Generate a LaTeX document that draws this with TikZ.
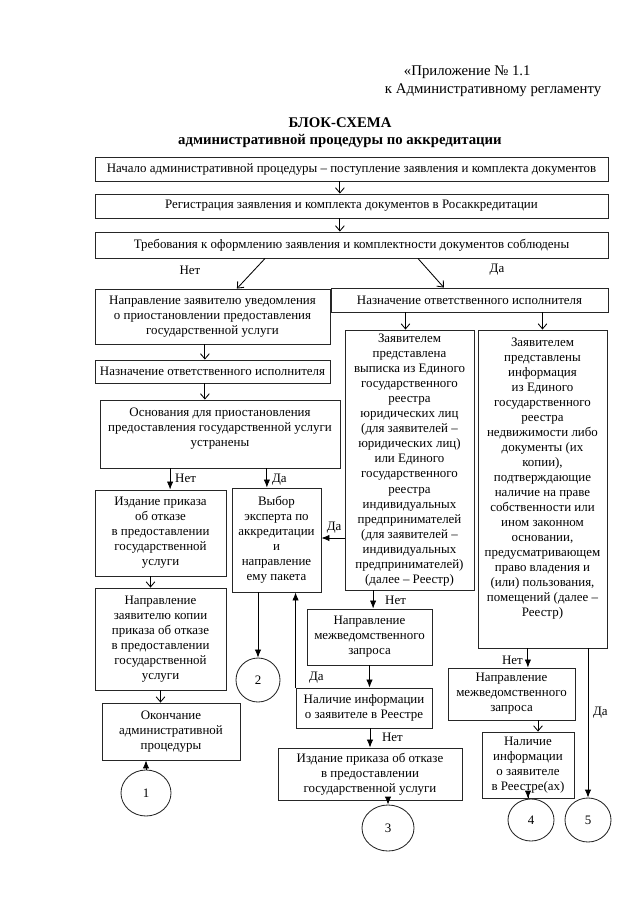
\documentclass[tikz,border=0pt]{standalone}
\usepackage{fontspec}
\setmainfont{Liberation Serif}
\usetikzlibrary{positioning,arrows.meta,calc,shapes.geometric}

\begin{document}
\begin{tikzpicture}[x=0.025cm,y=-0.025cm,
  every node/.style={font=\fontsize{9.2}{10.7}\selectfont},
  box/.style={draw=black!85,line width=0.6pt,align=center,inner sep=1pt},
  circ/.style={draw=black!85,line width=0.6pt,ellipse,inner sep=0pt},
  arr/.style={line width=0.6pt,-{Straight Barb[length=1.3mm,width=2.2mm]}},
  farr/.style={line width=0.6pt,-{Latex[length=2mm,width=1.6mm]}},
  head/.style={font=\fontsize{10.5}{12}\selectfont}]
  \useasboundingbox (0,0) rectangle (640,905);

  % heading
  \node[head,anchor=west] (app) at (399,72) {«Приложение № 1.1};
  \node[head,anchor=west] (reg) at (380,90) {к Административному регламенту};
  \node[head,font=\fontsize{10.5}{12}\bfseries] (ttl) at (340,123) {БЛОК-СХЕМА};
  \node[head,font=\fontsize{10.5}{12}\bfseries] (sub) at (340,141) {административной процедуры по аккредитации};

  % upper part
  \node[box,minimum width=12.825cm,minimum height=0.6cm] (start) at (351.5,169)
    {Начало административной процедуры – поступление заявления и комплекта документов};
  \node[box,minimum width=12.825cm,minimum height=0.6cm] (regist) at (351.5,206)
    {Регистрация заявления и комплекта документов в Росаккредитации};
  \node[box,minimum width=12.825cm,minimum height=0.65cm] (demand) at (351.5,245)
    {Требования к оформлению заявления и комплектности документов соблюдены};

  \node[box,minimum width=5.875cm,minimum height=1.375cm] (notify) at (212.5,316.5)
    {Направление заявителю уведомления\\ о приостановлении предоставления\\ государственной услуги};
  \node[box,minimum width=6.925cm,minimum height=0.6cm] (assignR) at (469.5,300)
    {Назначение ответственного исполнителя};
  \node[box,minimum width=5.875cm,minimum height=0.575cm] (assignL) at (212.5,371.5)
    {Назначение ответственного исполнителя};
  \node[box,minimum width=6cm,minimum height=1.7cm] (grounds) at (220,434)
    {Основания для приостановления\\ предоставления государственной услуги\\ устранены\\[-1pt]};

  % left column
  \node[box,minimum width=3.275cm,minimum height=2.15cm] (refuseA) at (160.5,533)
    {Издание приказа\\ об отказе\\ в предоставлении\\ государственной\\ услуги};
  \node[box,minimum width=2.225cm,minimum height=2.6cm] (expert) at (276.5,540)
    {Выбор\\ эксперта по\\ аккредитации\\ и\\ направление\\ ему пакета};
  \node[box,minimum width=3.275cm,minimum height=2.55cm] (copy) at (160.5,639)
    {Направление\\ заявителю копии\\ приказа об отказе\\ в предоставлении\\ государственной\\ услуги};
  \node[box,minimum width=3.45cm,minimum height=1.425cm] (finish) at (171,731.5)
    {Окончание\\ административной\\ процедуры};
  \node[circ,minimum width=1.25cm,minimum height=1.15cm] (one) at (146,793) {1};
  \node[circ,minimum width=1.1cm,minimum height=1.1cm] (two) at (258,680) {2};

  % middle column
  \node[box,minimum width=3.225cm,minimum height=6.5cm] (egrul) at (409.5,460)
    {Заявителем\\ представлена\\ выписка из Единого\\ государственного\\ реестра\\ юридических лиц\\ (для заявителей –\\ юридических лиц)\\ или Единого\\ государственного\\ реестра\\ индивидуальных\\ предпринимателей\\ (для заявителей –\\ индивидуальных\\ предпринимателей)\\ (далее – Реестр)};
  \node[box,minimum width=3.125cm,minimum height=1.4cm] (queryA) at (369.5,637)
    {Направление\\ межведомственного\\ запроса};
  \node[box,minimum width=3.4cm,minimum height=1cm] (infoA) at (364,708)
    {Наличие информации\\ о заявителе в Реестре};
  \node[box,minimum width=4.6cm,minimum height=1.3cm] (refuseB) at (370,774)
    {Издание приказа об отказе\\ в предоставлении\\ государственной услуги};
  \node[circ,minimum width=1.3cm,minimum height=1.15cm] (three) at (388,828) {3};

  % right column
  \node[box,minimum width=3.225cm,minimum height=7.95cm] (egrn) at (542.5,489)
    {Заявителем\\ представлены\\ информация\\ из Единого\\ государственного\\ реестра\\ недвижимости либо\\ документы (их\\ копии),\\ подтверждающие\\ наличие на праве\\ собственности или\\ ином законном\\ основании,\\ предусматривающем\\ право владения и\\ (или) пользования,\\ помещений (далее –\\ Реестр)\\[6pt]};
  \node[box,minimum width=3.175cm,minimum height=1.3cm] (queryB) at (511.5,694)
    {Направление\\ межведомственного\\ запроса};
  \node[box,minimum width=2.3cm,minimum height=1.65cm] (infoB) at (528,765)
    {Наличие\\ информации\\ о заявителе\\ в Реестре(ах)};
  \node[circ,minimum width=1.15cm,minimum height=1.05cm] (four) at (531,820) {4};
  \node[circ,minimum width=1.15cm,minimum height=1.1cm] (five) at (588,820) {5};

  % connectors
  \draw[arr] ([xshift=-0.29cm]start.south) -- ([xshift=-0.29cm]regist.north);
  \draw[arr] ([xshift=-0.29cm]regist.south) -- ([xshift=-0.29cm]demand.north);
  \draw[arr] ([xshift=-2.16cm]demand.south) -- ([xshift=0.61cm]notify.north);
  \draw[arr] ([xshift=1.66cm]demand.south) -- ([xshift=-0.64cm]assignR.north);
  \node (no1) at (190,270) {Нет};
  \node (yes1) at (497,270) {Да};

  \draw[arr] ([xshift=-0.19cm]notify.south) -- ([xshift=-0.19cm]assignL.north);
  \draw[arr] ([xshift=-0.19cm]assignL.south) -- ([xshift=-0.19cm]assignL.south |- grounds.north);
  \draw[farr] ([xshift=0.24cm]refuseA.north |- grounds.south) -- node[right,pos=0.45] {Нет} ([xshift=0.24cm]refuseA.north);
  \draw[farr] ([xshift=-0.24cm]expert.north |- grounds.south) -- node[right,pos=0.6] {Да} ([xshift=-0.24cm]expert.north);
  \draw[arr] ([xshift=-0.25cm]refuseA.south) -- ([xshift=-0.25cm]copy.north);
  \draw[arr] (copy.south) -- (copy.south |- finish.north);
  \draw[farr] (one) -- (one |- finish.south);
  \draw[farr] (two.north |- expert.south) -- (two.north);

  \draw[arr] ([xshift=-0.1cm]egrul.north |- assignR.south) -- ([xshift=-0.1cm]egrul.north);
  \draw[arr] (egrn.north |- assignR.south) -- (egrn.north);
  \draw[farr] (egrul.west |- 0,538) -- node[above,pos=0.45] {Да} (expert.east |- 0,538);
  \draw[farr] ([xshift=0.09cm]queryA.north |- egrul.south) -- node[right=5pt,pos=0.55] {Нет} ([xshift=0.09cm]queryA.north);
  \draw[farr] (queryA.south) -- (queryA.south |- infoA.north);
  \draw[farr] (infoA.north west) -- node[right=6pt,pos=0.1] {Да} (infoA.north west |- expert.south);
  \draw[farr] (refuseB.north |- infoA.south) -- node[right=5pt,pos=0.45] {Нет} (refuseB.north);
  \draw[farr] (three.north |- refuseB.south) -- (three.north);

  \draw[farr] ([xshift=0.41cm]queryB.north |- egrn.south) -- node[left,pos=0.6] {Нет} ([xshift=0.41cm]queryB.north);
  \draw[arr] ([xshift=0.25cm]infoB.north |- queryB.south) -- ([xshift=0.25cm]infoB.north);
  \draw[farr] (infoB.south) -- (four.north -| infoB.south);
  \draw[farr] (five.north |- egrn.south) -- node[right,pos=0.43] {Да} (five.north);
\end{tikzpicture}
\end{document}
